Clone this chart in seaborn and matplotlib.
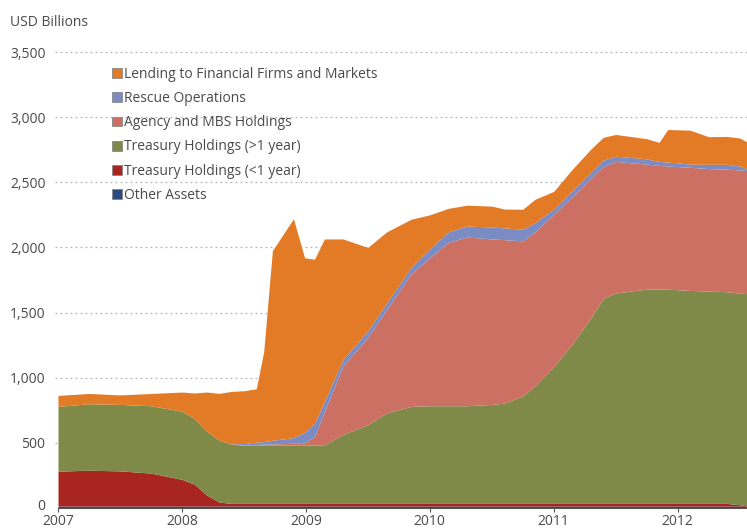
import numpy as np
import pandas as pd
import matplotlib
matplotlib.use("Agg")
import matplotlib.pyplot as plt
import matplotlib.transforms as mtransforms
import seaborn as sns
from matplotlib.patches import Patch

# time in fractional years
years = [2007.00, 2007.25, 2007.50, 2007.75, 2008.00, 2008.10, 2008.20, 2008.30,
         2008.40, 2008.50, 2008.60, 2008.66, 2008.73, 2008.90, 2008.99, 2009.07,
         2009.15, 2009.30, 2009.50, 2009.65, 2009.85, 2010.00, 2010.15, 2010.30,
         2010.50, 2010.60, 2010.75, 2010.85, 2011.00, 2011.15, 2011.30, 2011.40,
         2011.50, 2011.75, 2011.85, 2011.92, 2012.10, 2012.25, 2012.40, 2012.50,
         2012.56]

other_assets = [15, 15, 15, 15, 15, 15, 15, 15, 15, 15, 15, 15, 15, 15, 15, 15,
                15, 15, 15, 15, 15, 15, 15, 15, 15, 15, 15, 15, 15, 15, 15, 15,
                15, 15, 15, 15, 15, 15, 15, 15, 10]
treasury_short = [268, 275, 270, 253, 205, 168, 84, 31, 20, 20, 20, 20, 20, 20, 20, 20,
                  20, 20, 20, 20, 20, 20, 20, 20, 20, 20, 20, 20, 20, 20, 20, 20,
                  20, 20, 20, 20, 20, 20, 20, 10, 5]
treasury_long = [497, 510, 510, 517, 522, 505, 490, 474, 455, 447, 447, 447, 447, 447, 447, 447,
                 450, 530, 605, 695, 745, 750, 750, 750, 760, 770, 825, 905, 1050, 1225, 1425, 1575,
                 1615, 1645, 1645, 1645, 1635, 1630, 1625, 1625, 1630]
agency_mbs = [0, 0, 0, 0, 0, 0, 0, 0, 0, 3, 6, 8, 10, 15, 18, 68,
              255, 525, 670, 790, 1020, 1135, 1255, 1295, 1270, 1255, 1190, 1180, 1170, 1130, 1070, 1010,
              1010, 960, 950, 945, 945, 940, 940, 945, 945]
rescue = [0, 0, 0, 0, 0, 0, 0, 0, 2, 10, 17, 20, 28, 43, 80, 100,
          80, 50, 50, 50, 50, 70, 80, 84, 92, 90, 90, 70, 40, 45, 45, 50,
          40, 40, 30, 30, 25, 33, 38, 30, 10]
lending = [84, 79, 73, 94, 148, 195, 301, 360, 403, 405, 410, 690, 1455, 1680, 1340, 1260,
           1245, 925, 640, 548, 367, 260, 180, 160, 160, 145, 153, 180, 135, 165, 180, 175,
           167, 155, 146, 250, 260, 212, 214, 215, 210]

labels = ["Other Assets", "Treasury Holdings (<1 year)", "Treasury Holdings (>1 year)",
          "Agency and MBS Holdings", "Rescue Operations", "Lending to Financial Firms and Markets"]
colors = ["#2d4a80", "#a8261f", "#7f8a48", "#cc7064", "#7b8cc4", "#e27a26"]

df = pd.DataFrame({
    "year": years,
    labels[0]: other_assets,
    labels[1]: treasury_short,
    labels[2]: treasury_long,
    labels[3]: agency_mbs,
    labels[4]: rescue,
    labels[5]: lending,
})

sns.set_theme(style="white")
plt.rcParams['font.family'] = ['Open Sans', 'DejaVu Sans']

fig = plt.figure(figsize=(7.47, 5.31), dpi=100)
ax = fig.add_axes([58 / 747, 23 / 531, 689 / 747, 456 / 531])

ax.stackplot(df["year"], [df[c] for c in labels], colors=colors, linewidth=0, zorder=2)

ax.set_xlim(2007, 2012.56)
ax.set_ylim(0, 3500)
ax.set_yticks(np.arange(0, 3501, 500))
ax.set_yticklabels([f"{v:,}" for v in range(0, 3501, 500)])
ax.set_xticks(range(2007, 2013))
ax.set_xticklabels([str(y) for y in range(2007, 2013)])

# dotted gridlines behind the areas
for v in range(500, 3501, 500):
    ax.axhline(v, xmin=-0.005, color="#b5b5b5", lw=0.9, ls=(0, (1.5, 2.5)), zorder=1, clip_on=False)

for s in ["top", "right", "left"]:
    ax.spines[s].set_visible(False)
ax.spines["bottom"].set_color("#555555")
ax.spines["bottom"].set_linewidth(0.8)
ax.spines["bottom"].set_zorder(3)

ax.tick_params(axis="y", length=0, pad=9, labelsize=10, labelcolor="#4a4a4a")
ax.tick_params(axis="x", length=3, width=0.8, color="#555555", pad=1, labelsize=10,
               labelcolor="#4a4a4a", bottom=True)
ax.yaxis.grid(False)
ax.xaxis.grid(False)

# lift the "0" label a few pixels so it clears the 2007 label
zero_lbl = ax.get_yticklabels()[0]
zero_lbl.set_transform(zero_lbl.get_transform() +
                       mtransforms.ScaledTranslation(0, 3 / 100, fig.dpi_scale_trans))

fig.text(10 / 747, 1 - 22 / 531, "USD Billions", fontsize=10, color="#4a4a4a", va="center")

handles = [Patch(facecolor=c, edgecolor="#888888", linewidth=0.6) for c in colors]
leg = ax.legend(handles[::-1], labels[::-1], loc="upper left",
                bbox_to_anchor=(112 / 747, 1 - 67 / 531), bbox_transform=fig.transFigure,
                frameon=False, fontsize=10, handlelength=0.7, handleheight=0.7,
                handletextpad=0.2, labelspacing=0.66, borderaxespad=0, borderpad=0)
for t in leg.get_texts():
    t.set_color("#4a4a4a")

fig.savefig("out.png", dpi=100)
